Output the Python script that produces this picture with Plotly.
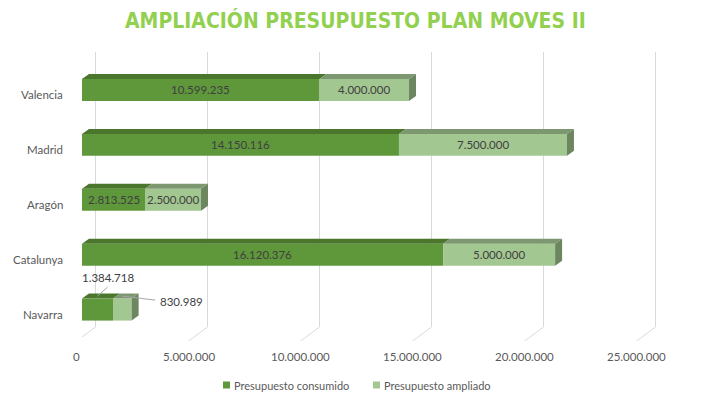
import plotly.graph_objects as go

# ---------------- data ----------------
categories = ["Valencia", "Madrid", "Aragón", "Catalunya", "Navarra"]
consumido = [10599235, 14150116, 2813525, 16120376, 1384718]
ampliado = [4000000, 7500000, 2500000, 5000000, 830989]
x_ticks = [0, 5000000, 10000000, 15000000, 20000000, 25000000]
series_names = ["Presupuesto consumido", "Presupuesto ampliado"]
title_text = "AMPLIACIÓN PRESUPUESTO PLAN MOVES II"

# ---------------- style ----------------
W, H = 709, 402
ML, MR, MT, MB = 82, 9, 52, 61
plot_w = W - ML - MR
plot_h = H - MT - MB
PXU = 25e6 / 560.0            # x data units per pixel
Y_TOP, Y_BOT = -0.692, 4.572  # y range (reversed)
PYU = (Y_BOT - Y_TOP) / plot_h  # y data units per pixel
BW = 0.40
DX, DY = 7 * PXU, -5 * PYU    # 3D depth offset

C_FRONT = ["#5F973B", "#A3C791"]
C_TOP = ["#4B772D", "#7D9770"]
C_SIDE = ["#4B772D", "#6C8760"]
TXT = "#404040"
FONT = "Lato, 'Open Sans', sans-serif"


def fmt(v):
    return f"{v:,}".replace(",", ".")


def px_x(p):   # pixel x -> paper x
    return (p - ML) / plot_w


def px_y(p):   # pixel y -> paper y
    return (H - MB - p) / plot_h


fig = go.Figure()
ypos = list(range(len(categories)))

# front faces (the bars)
for s, vals in enumerate([consumido, ampliado]):
    base = [0] * len(vals) if s == 0 else consumido
    fig.add_trace(go.Bar(
        y=ypos, x=vals, base=base, orientation="h", width=BW,
        marker=dict(color=C_FRONT[s], line=dict(width=0)),
        name=series_names[s], showlegend=False, hoverinfo="skip",
    ))

# top faces and side faces
for i in ypos:
    segs = [(0, consumido[i]), (consumido[i], consumido[i] + ampliado[i])]
    yt = i - BW / 2
    yb = i + BW / 2
    for s, (x0, x1) in enumerate(segs):
        fig.add_trace(go.Scatter(
            x=[x0, x1, x1 + DX, x0 + DX, x0],
            y=[yt, yt, yt + DY, yt + DY, yt],
            mode="lines", fill="toself", fillcolor=C_TOP[s],
            line=dict(width=0), showlegend=False, hoverinfo="skip",
        ))
    xe = segs[1][1]
    fig.add_trace(go.Scatter(
        x=[xe, xe + DX, xe + DX, xe, xe],
        y=[yt, yt + DY, yb + DY, yb, yt],
        mode="lines", fill="toself", fillcolor=C_SIDE[1],
        line=dict(width=0), showlegend=False, hoverinfo="skip",
    ))

shapes = []
annotations = []

# gridlines on back wall + floor diagonals + tick labels
y_wall_bottom = Y_TOP + (327 - MT) * PYU
for v in x_ticks:
    xb = v + 13.5 * PXU
    xf = v - 5.5 * PXU
    shapes.append(dict(type="line", xref="x", yref="y", x0=xb, x1=xb,
                       y0=Y_TOP, y1=y_wall_bottom, layer="below",
                       line=dict(color="#D9D9D9", width=1)))
    shapes.append(dict(type="line", xref="x", yref="y", x0=xb, x1=xf,
                       y0=y_wall_bottom, y1=Y_BOT, layer="below",
                       line=dict(color="#D9D9D9", width=1)))
    annotations.append(dict(x=px_x(ML + v / PXU - 5.5), y=px_y(356),
                            xref="paper", yref="paper", yanchor="middle",
                            xanchor="center", showarrow=False,
                            text=fmt(v),
                            font=dict(family=FONT, size=11.5, color="#595959")))

# category labels
for i, c in enumerate(categories):
    annotations.append(dict(x=0, y=i, xref="paper", yref="y", xanchor="right",
                            xshift=-17, yshift=-4.5, showarrow=False, text=c,
                            font=dict(family=FONT, size=11.5, color="#595959")))

# data labels
for i in ypos:
    segs = [(0, consumido[i]), (consumido[i], consumido[i] + ampliado[i])]
    vals = [consumido[i], ampliado[i]]
    if categories[i] == "Navarra":
        xc = (segs[0][0] + segs[0][1]) / 2
        ytop = i - BW / 2 + DY / 2
        shapes.append(dict(type="line", xref="x", yref="y",
                           x0=xc, y0=ytop, x1=xc + 10 * PXU, y1=ytop - 9 * PYU,
                           line=dict(color="#A6A6A6", width=1)))
        annotations.append(dict(x=xc + 10 * PXU, y=ytop - 19 * PYU, xref="x",
                                yref="y", showarrow=False, text=fmt(vals[0]),
                                font=dict(family=FONT, size=11.5, color=TXT)))
        xa = (segs[1][0] + segs[1][1]) / 2
        shapes.append(dict(type="line", xref="x", yref="y",
                           x0=xa, y0=ytop, x1=xa + 33 * PXU, y1=ytop + 4 * PYU,
                           line=dict(color="#A6A6A6", width=1)))
        annotations.append(dict(x=xa + 36 * PXU, y=ytop + 5 * PYU, xref="x",
                                yref="y", xanchor="left", showarrow=False,
                                text=fmt(vals[1]),
                                font=dict(family=FONT, size=11.5, color=TXT)))
    else:
        for s in range(2):
            annotations.append(dict(x=(segs[s][0] + segs[s][1]) / 2, y=i,
                                    xref="x", yref="y", showarrow=False,
                                    text=fmt(vals[s]),
                                    font=dict(family=FONT, size=11.5,
                                              color=TXT)))

# legend (custom)
leg_y = 385
leg_items = [(223, series_names[0], C_FRONT[0]), (373, series_names[1], C_FRONT[1])]
for lx, name, col in leg_items:
    shapes.append(dict(type="rect", xref="paper", yref="paper",
                       x0=px_x(lx), x1=px_x(lx + 7),
                       y0=px_y(leg_y + 3.5), y1=px_y(leg_y - 3.5),
                       fillcolor=col, line=dict(width=0)))
    annotations.append(dict(x=px_x(lx + 9), y=px_y(leg_y),
                            xref="paper", yref="paper", xanchor="left",
                            yanchor="middle", showarrow=False, text=name,
                            font=dict(family=FONT, size=11, color="#595959")))

# title
annotations.append(dict(x=px_x(355), y=px_y(20), xref="paper", yref="paper",
                        xanchor="center", yanchor="middle", showarrow=False,
                        text="<b>" + title_text + "</b>",
                        font=dict(family="'Liberation Sans Narrow', 'DejaVu Sans Condensed', Arial, sans-serif",
                                  size=21, color="#92D050")))

fig.update_layout(
    width=W, height=H, margin=dict(l=ML, r=MR, t=MT, b=MB),
    paper_bgcolor="white", plot_bgcolor="rgba(0,0,0,0)",
    barmode="overlay", showlegend=False,
    xaxis=dict(range=[0, plot_w * PXU], showgrid=False, zeroline=False,
               showticklabels=False, showline=False, fixedrange=True),
    yaxis=dict(range=[Y_BOT, Y_TOP], showgrid=False, zeroline=False,
               showticklabels=False, showline=False, fixedrange=True),
    shapes=shapes, annotations=annotations,
)

fig.write_html("out.html")
